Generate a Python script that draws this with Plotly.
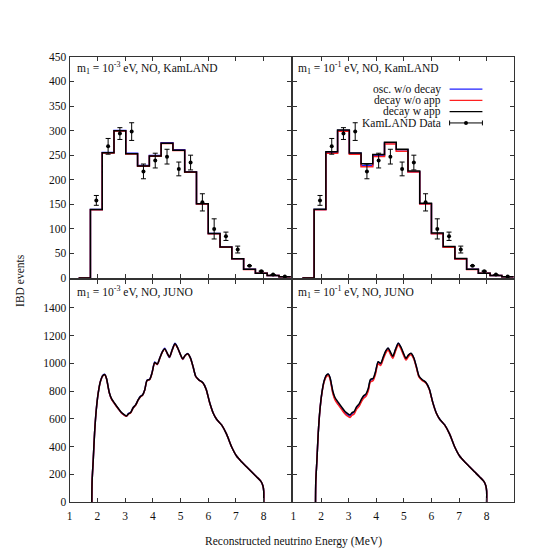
import plotly.graph_objects as go

# ---------------- data ----------------
# KamLAND bins (MeV)
KL_EDGES = [1.325, 1.75, 2.175, 2.6, 3.025, 3.45, 3.875, 4.3, 4.725, 5.15,
            5.575, 6.0, 6.425, 6.85, 7.275, 7.7, 8.125, 8.55, 8.975]
KL_OSC = [0, 139.5, 255.5, 300, 254, 229, 249.5, 275.5, 261, 216.5, 151, 90.5, 63, 39.5, 17.7, 10, 5, 2.5]
KL_NOAPP_M3 = [0, 139, 254.5, 299, 252.5, 227.5, 248, 274, 259.5, 215.5, 150.5, 90, 62.5, 39.2, 17.5, 9.9, 5, 2.5]
KL_APP_M3 = [0, 139.5, 255, 299.5, 253, 228, 248.5, 274.5, 260, 216, 151, 90.5, 63, 39.5, 17.7, 10, 5, 2.5]
KL_NOAPP_M1 = [0, 139, 254, 298.5, 252, 226.5, 247.5, 272.8, 257.8, 215.6, 150.5, 90, 62.5, 39, 17.5, 9.8, 5, 2.5]
KL_APP_M1 = [0, 140, 257, 301, 254.5, 232.5, 251.5, 276.5, 262, 217.6, 152, 91.5, 64, 40, 18, 10, 5, 2.5]

KL_DATA_E = [1.9625, 2.3875, 2.8125, 3.2375, 3.6625, 4.0875, 4.5125, 4.9375, 5.3625,
             5.7875, 6.2125, 6.6375, 7.0625, 7.4875, 7.9125, 8.3375, 8.7625]
KL_DATA_N = [158, 268, 294, 298, 217, 239, 247, 222, 235, 154, 100, 85, 58, 25, 14, 7, 3]
KL_DATA_ERR = [10, 16, 12, 18, 15, 15, 15, 14, 15, 17.5, 20.5, 8.5, 7, 0, 0, 0, 0]

# JUNO spectra
JUNO_E = [1.80, 1.81, 1.85, 1.90, 1.96, 2.03, 2.11, 2.20, 2.27, 2.33,
          2.38, 2.43, 2.51, 2.62, 2.75, 2.87, 2.98, 3.05, 3.12, 3.20,
          3.29, 3.38, 3.47, 3.55, 3.63, 3.71, 3.79, 3.89, 3.97, 4.07,
          4.16, 4.25, 4.34, 4.43, 4.52, 4.60, 4.70, 4.80, 4.90, 5.00,
          5.08, 5.17, 5.26, 5.36, 5.45, 5.55, 5.66, 5.80, 5.92, 6.05,
          6.18, 6.30, 6.48, 6.66, 6.84, 7.02, 7.20, 7.38, 7.56, 7.74,
          7.90, 7.97, 8.00, 8.00]
JUNO_OSC = [0, 150, 300, 500, 664, 785, 870, 913, 920, 890,
            840, 788, 743, 710, 674, 643, 625, 618, 638, 646,
            680, 700, 736, 762, 772, 810, 878, 886, 932, 1010,
            991, 1038, 1083, 1109, 1069, 1041, 1099, 1144, 1110, 1060,
            1028, 1058, 1071, 1037, 977, 905, 881, 861, 815, 717,
            640, 597, 556, 490, 399, 332, 291, 255, 219, 183,
            150, 118, 80, 0]
JUNO_NOAPP_M3 = [0, 150, 300, 500, 664, 785, 869, 911, 917, 888,
                 838, 787, 742, 709, 673, 642, 625, 618, 634, 643,
                 678, 698, 734, 758, 770, 808, 874, 884, 928, 1004,
                 992, 1035, 1079, 1103, 1071, 1043, 1095, 1138, 1108, 1060,
                 1030, 1056, 1067, 1035, 976, 904, 880, 860, 814, 716,
                 640, 597, 556, 490, 399, 332, 291, 255, 219, 183,
                 150, 118, 80, 0]
JUNO_APP_M3 = [0, 150, 300, 500, 664, 785, 870, 912, 918, 890,
               840, 790, 745, 712, 676, 645, 628, 621, 636, 645,
               680, 700, 736, 760, 772, 810, 876, 886, 930, 1006,
               994, 1037, 1081, 1105, 1073, 1045, 1097, 1140, 1110, 1062,
               1032, 1058, 1069, 1037, 977, 905, 881, 861, 815, 717,
               640, 597, 556, 490, 399, 332, 291, 255, 219, 183,
               150, 118, 80, 0]
JUNO_NOAPP_M1 = [0, 150, 300, 500, 663, 782, 866, 906, 912, 882,
                 832, 780, 735, 702, 666, 635, 617, 610, 626, 635,
                 670, 690, 726, 750, 762, 800, 866, 876, 920, 996,
                 984, 1027, 1071, 1095, 1063, 1035, 1088, 1131, 1101, 1053,
                 1024, 1050, 1062, 1031, 972, 900, 877, 858, 812, 715,
                 639, 596, 555, 490, 399, 332, 291, 255, 219, 183,
                 150, 118, 80, 0]
JUNO_APP_M1 = [0, 150, 300, 500, 665, 787, 873, 916, 922, 895,
               846, 797, 752, 720, 684, 653, 636, 629, 644, 653,
               688, 708, 744, 768, 780, 818, 883, 893, 937, 1012,
               1000, 1043, 1087, 1110, 1079, 1051, 1102, 1144, 1114, 1066,
               1036, 1061, 1072, 1040, 980, 908, 883, 862, 816, 717,
               640, 597, 556, 490, 399, 332, 291, 255, 219, 183,
               150, 118, 80, 0]

X_TICKS = [1, 2, 3, 4, 5, 6, 7, 8]
Y_TICKS_TOP = [0, 50, 100, 150, 200, 250, 300, 350, 400, 450]
Y_TICKS_BOT = [0, 200, 400, 600, 800, 1000, 1200, 1400]

LABELS = ["osc. w/o decay", "decay w/o app", "decay w app", "KamLAND Data"]
PANEL_TITLES = ["m<sub>1</sub> = 10<sup>-3</sup> eV, NO, KamLAND",
                "m<sub>1</sub> = 10<sup>-1</sup> eV, NO, KamLAND",
                "m<sub>1</sub> = 10<sup>-3</sup> eV, NO, JUNO",
                "m<sub>1</sub> = 10<sup>-1</sup> eV, NO, JUNO"]

# ---------------- figure ----------------
W = H = 560
FONT = "Liberation Serif"
BLUE, RED, BLACK = "#2020ff", "#ff2020", "#000000"
LW = 1.5

fig = go.Figure()


def px_x(v):
    return v / W


def px_y(v):
    return 1 - v / H


def steps(vals):
    return list(vals) + [vals[-1]]


panels = [
    ("x", "y", KL_NOAPP_M3, KL_APP_M3, "kl"),
    ("x2", "y2", KL_NOAPP_M1, KL_APP_M1, "kl"),
    ("x3", "y3", JUNO_NOAPP_M3, JUNO_APP_M3, "juno"),
    ("x4", "y4", JUNO_NOAPP_M1, JUNO_APP_M1, "juno"),
]

for xa, ya, noapp, app, kind in panels:
    if kind == "kl":
        for vals, col in [(KL_OSC, BLUE), (noapp, RED), (app, BLACK)]:
            fig.add_trace(go.Scatter(x=KL_EDGES, y=steps(vals), mode="lines",
                                     line=dict(color=col, width=LW, shape="hv"),
                                     xaxis=xa, yaxis=ya, showlegend=False,
                                     hoverinfo="skip"))
        fig.add_trace(go.Scatter(x=KL_DATA_E, y=KL_DATA_N, mode="markers",
                                 marker=dict(color="black", size=4),
                                 error_y=dict(type="data", array=KL_DATA_ERR,
                                              color="black", thickness=1, width=2.5),
                                 xaxis=xa, yaxis=ya, showlegend=False))
    else:
        for vals, col in [(JUNO_OSC, BLUE), (noapp, RED), (app, BLACK)]:
            fig.add_trace(go.Scatter(x=JUNO_E, y=vals, mode="lines",
                                     line=dict(color=col, width=LW, shape="spline",
                                               smoothing=0.7),
                                     xaxis=xa, yaxis=ya, showlegend=False,
                                     hoverinfo="skip"))

# axis domains (pixel based)
XL = [px_x(67), px_x(290)]
XR = [px_x(292), px_x(514)]
YT = [px_y(278), px_y(52)]
YB = [px_y(507), px_y(280)]

common = dict(showline=True, linecolor="#333", linewidth=1, mirror="allticks",
              ticks="inside", ticklen=4, tickcolor="#333", showgrid=False,
              zeroline=False, tickfont=dict(family=FONT, size=11.5, color="#111"))

axes = {
    "xaxis": dict(domain=XL, anchor="y", range=[1, 9], tickvals=X_TICKS, showticklabels=False),
    "xaxis2": dict(domain=XR, anchor="y2", range=[1, 9], tickvals=X_TICKS, showticklabels=False),
    "xaxis3": dict(domain=XL, anchor="y3", range=[1, 9], tickvals=X_TICKS, ticklabelstandoff=3),
    "xaxis4": dict(domain=XR, anchor="y4", range=[1, 9], tickvals=X_TICKS, ticklabelstandoff=3),
    "yaxis": dict(domain=YT, anchor="x", range=[0, 450], tickvals=Y_TICKS_TOP),
    "yaxis2": dict(domain=YT, anchor="x2", range=[0, 450], tickvals=Y_TICKS_TOP, showticklabels=False),
    "yaxis3": dict(domain=YB, anchor="x3", range=[0, 1600], tickvals=Y_TICKS_BOT),
    "yaxis4": dict(domain=YB, anchor="x4", range=[0, 1600], tickvals=Y_TICKS_BOT, showticklabels=False),
}
for k, v in axes.items():
    d = dict(common)
    d.update(v)
    axes[k] = d

annotations = []
# panel titles
for (tx, ty), txt in zip([(72, 63), (295, 63), (72, 292), (295, 292)], PANEL_TITLES):
    annotations.append(dict(x=px_x(tx), y=px_y(ty), xref="paper", yref="paper",
                            text=txt, showarrow=False, xanchor="left", yanchor="middle",
                            font=dict(family=FONT, size=11.5, color="#111")))
# axis titles
annotations.append(dict(x=px_x(292), y=px_y(547), xref="paper", yref="paper",
                        text="Reconstructed neutrino Energy (MeV)", showarrow=False,
                        xanchor="center", yanchor="middle",
                        font=dict(family=FONT, size=11.5, color="#111")))
annotations.append(dict(x=px_x(17), y=px_y(280), xref="paper", yref="paper",
                        text="IBD events", showarrow=False, textangle=-90,
                        xanchor="center", yanchor="middle",
                        font=dict(family=FONT, size=11.5, color="#111")))

# legend (gnuplot style: text right, sample right of it)
shapes = []
rows = [85, 96.5, 108, 119.5]
cols = [BLUE, RED, BLACK, None]
LX0, LX1 = 449, 482
for lab, ry, col in zip(LABELS, rows, cols):
    annotations.append(dict(x=px_x(442), y=px_y(ry), xref="paper", yref="paper",
                            text=lab, showarrow=False, xanchor="right", yanchor="middle",
                            font=dict(family=FONT, size=11.5, color="#111")))
    if col is not None:
        shapes.append(dict(type="line", xref="paper", yref="paper",
                           x0=px_x(LX0), x1=px_x(LX1), y0=px_y(ry), y1=px_y(ry),
                           line=dict(color=col, width=1.3)))
    else:
        shapes.append(dict(type="line", xref="paper", yref="paper",
                           x0=px_x(LX0), x1=px_x(LX1), y0=px_y(ry), y1=px_y(ry),
                           line=dict(color="black", width=1)))
        for cx in (LX0, LX1):
            shapes.append(dict(type="line", xref="paper", yref="paper",
                               x0=px_x(cx), x1=px_x(cx), y0=px_y(ry - 2.5), y1=px_y(ry + 2.5),
                               line=dict(color="black", width=1)))
        mx = (LX0 + LX1) / 2
        shapes.append(dict(type="circle", xref="paper", yref="paper",
                           x0=px_x(mx - 2), x1=px_x(mx + 2), y0=px_y(ry + 2), y1=px_y(ry - 2),
                           fillcolor="black", line=dict(color="black", width=0)))

fig.update_layout(width=W, height=H, margin=dict(l=0, r=0, t=0, b=0),
                  paper_bgcolor="white", plot_bgcolor="white",
                  showlegend=False, annotations=annotations, shapes=shapes,
                  font=dict(family=FONT, size=11), **axes)

fig.write_html("out.html", config={"displayModeBar": False},
               post_script="document.body.style.margin='0px';document.body.style.overflow='hidden';")
